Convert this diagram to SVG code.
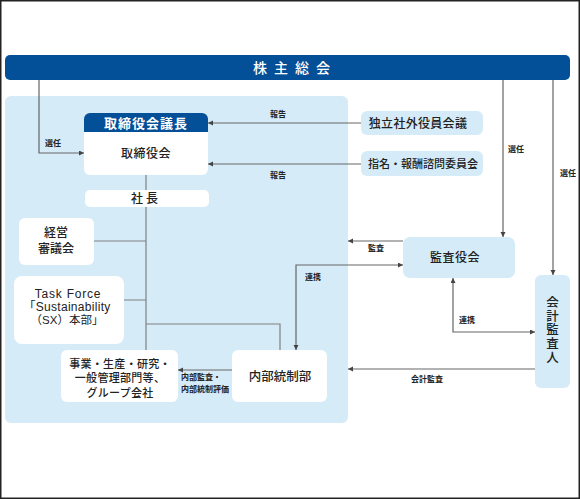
<svg xmlns="http://www.w3.org/2000/svg" width="580" height="499" viewBox="0 0 580 499">
<defs>
<marker id="ah" markerUnits="userSpaceOnUse" markerWidth="6" markerHeight="6" refX="5" refY="2.5" orient="auto-start-reverse">
<path d="M0,0 L5,2.5 L0,5 z" fill="#444"/>
</marker>
<style>
text{font-family:"Noto Sans CJK JP","Noto Sans",sans-serif;fill:#222;}
.lb{fill:#d5ebf8;}
.wb{fill:#fff;}
.t12{font-size:12px;text-anchor:middle;font-weight:500;}
.lat{font-family:"Liberation Sans","Noto Sans CJK JP",sans-serif;font-size:12px;text-anchor:middle;}
.lbl{font-size:8px;font-weight:bold;}
.ln{fill:none;stroke:#808080;stroke-width:1.2;}
.ar{fill:none;stroke:#666;stroke-width:1.2;marker-end:url(#ah);}
.ar2{fill:none;stroke:#666;stroke-width:1.2;marker-end:url(#ah);marker-start:url(#ah);}
</style>
</defs>
<rect x="0.75" y="0.75" width="578.5" height="497.5" fill="#fff" stroke="#222" stroke-width="1.5"/>
<rect x="5" y="96" width="343" height="327" rx="6" class="lb"/>

<g id="shareholders">
<rect x="5" y="55" width="565" height="25" rx="5" fill="#034f98"/>
<text x="295" y="73" font-size="14" font-weight="500" style="fill:#fff;text-anchor:middle;letter-spacing:7px">株主総会</text>
</g>

<g id="connectors">
<path class="ln" d="M146,175 V190 M146,207 V350 M94,241 H146 M124,300 H146 M146,324 H280 V350"/>
<path class="ar" d="M39,80 V153 H84"/>
<path class="ar" d="M503,80 V237"/>
<path class="ar" d="M553,80 V275"/>
<path class="ar" d="M361,123 H208"/>
<path class="ar" d="M361,164 H208"/>
<path class="ar" d="M403,241 H348"/>
<path class="ar2" d="M403,265 H296 V350"/>
<path class="ar2" d="M453,278 V332 H535"/>
<path class="ar" d="M535,369 H348"/>
<path class="ar" d="M232,370 H178"/>
<text class="lbl" x="45" y="146">選任</text>
<text class="lbl" x="508" y="152">選任</text>
<text class="lbl" x="560" y="176">選任</text>
<text class="lbl" x="270" y="117">報告</text>
<text class="lbl" x="270" y="178">報告</text>
<text class="lbl" x="368" y="251">監査</text>
<text class="lbl" x="305" y="280">連携</text>
<text class="lbl" x="459" y="323">連携</text>
<text class="lbl" x="411" y="382">会計監査</text>
<text class="lbl" x="181" y="380">内部監査・</text>
<text class="lbl" x="181" y="392">内部統制評価</text>
</g>

<g id="board">
<path d="M84,119 a6,6 0 0 1 6,-6 h112 a6,6 0 0 1 6,6 v13 h-124 z" fill="#034f98"/>
<path d="M84,132 h124 v37 a6,6 0 0 1 -6,6 h-112 a6,6 0 0 1 -6,-6 z" class="wb"/>
<text x="146" y="128" font-size="13" font-weight="bold" style="fill:#fff;text-anchor:middle;letter-spacing:1px">取締役会議長</text>
<text x="146" y="158" class="t12" style="letter-spacing:0.5px">取締役会</text>
</g>

<g id="president">
<rect x="85" y="190" width="124" height="17" rx="5" class="wb"/>
<text x="146" y="203" class="t12" style="letter-spacing:3px">社長</text>
</g>

<g id="management-council">
<rect x="19" y="218" width="75" height="47" rx="6" class="wb"/>
<text x="56" y="237" class="t12">経営</text>
<text x="56" y="253" class="t12">審議会</text>
</g>

<g id="task-force">
<rect x="14" y="276" width="110" height="68" rx="8" class="wb"/>
<text x="68" y="298" class="lat" style="letter-spacing:0.8px">Task Force</text>
<text x="67" y="310.5" class="lat" style="letter-spacing:0.3px">「Sustainability</text>
<text x="67" y="323.5" class="lat" style="font-size:11.5px">（SX）本部」</text>
</g>

<g id="business">
<rect x="61" y="350" width="117" height="52" rx="6" class="wb"/>
<text x="120" y="367.5" class="t12" style="font-size:11px;letter-spacing:0.3px">事業・生産・研究・</text>
<text x="120" y="382" class="t12" style="font-size:11px;letter-spacing:0.3px">一般管理部門等、</text>
<text x="120" y="396.5" class="t12" style="font-size:11px;letter-spacing:0.3px">グループ会社</text>
</g>

<g id="internal-control">
<rect x="232" y="350" width="95" height="52" rx="6" class="wb"/>
<text x="280" y="381" class="t12" style="font-size:12.5px">内部統制部</text>
</g>

<g id="independent-directors">
<rect x="361" y="111" width="122" height="24" rx="6" class="lb"/>
<text x="418" y="127.5" class="t12" style="letter-spacing:0.3px">独立社外役員会議</text>
</g>

<g id="nomination-committee">
<rect x="361" y="151" width="122" height="25" rx="6" class="lb"/>
<text x="423" y="168" class="t12" style="font-size:11px">指名・報酬諮問委員会</text>
</g>

<g id="audit-board">
<rect x="403" y="237" width="112" height="41" rx="7" class="lb"/>
<text x="455" y="262" class="t12" style="letter-spacing:0.5px">監査役会</text>
</g>

<g id="accounting-auditor">
<rect x="535" y="275" width="35" height="113" rx="6" class="lb"/>
<text x="552.5" y="296" style="font-size:12.5px;font-weight:500;writing-mode:vertical-rl;letter-spacing:1.2px">会計監査人</text>
</g>
</svg>
